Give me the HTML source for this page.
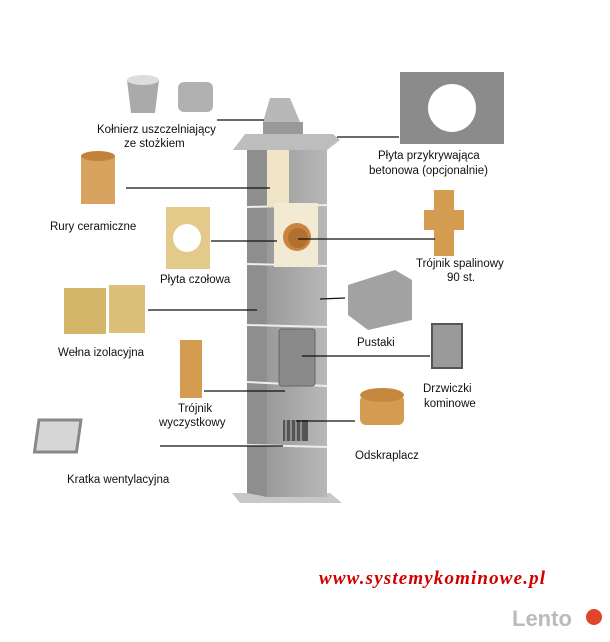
<!DOCTYPE html><html><head><style>body{margin:0;background:#fff}svg text{font-family:"Liberation Sans",sans-serif;font-size:11.5px;fill:#111}</style></head><body>
<svg width="610" height="637" viewBox="0 0 610 637">
<defs><linearGradient id="f" x1="0" x2="1"><stop offset="0" stop-color="#9a9a9a"/><stop offset="1" stop-color="#b8b8b8"/></linearGradient></defs>
<polygon points="232,493 330,493 342,503 240,503" fill="#c8c8c8"/>
<polygon points="247,148 267,144 267,497 247,493" fill="#8e8e8e"/>
<rect x="267" y="144" width="60" height="353" fill="url(#f)"/>
<g stroke="#eee" stroke-width="2"><line x1="247" y1="207" x2="327" y2="205"/><line x1="247" y1="264" x2="327" y2="266"/><line x1="247" y1="325" x2="327" y2="327"/><line x1="247" y1="382" x2="327" y2="386"/><line x1="247" y1="445" x2="327" y2="447"/></g>
<rect x="267" y="145" width="22" height="62" fill="#efe4c6"/>
<rect x="274" y="203" width="44" height="64" fill="#f2ead2"/>
<circle cx="297" cy="237" r="14" fill="#c9843e"/><circle cx="298" cy="238" r="10" fill="#b0702f"/>
<rect x="279" y="329" width="36" height="57" rx="3" fill="#8a8a8a" stroke="#666"/>
<rect x="283" y="420" width="25" height="21" fill="#555"/>
<g stroke="#ccc"><line x1="286" y1="420" x2="286" y2="441"/><line x1="291" y1="420" x2="291" y2="441"/><line x1="296" y1="420" x2="296" y2="441"/><line x1="301" y1="420" x2="301" y2="441"/></g>
<polygon points="233,150 245,134 333,134 340,140 327,150" fill="#bdbdbd"/>
<polygon points="263,122 270,98 290,98 300,122" fill="#b8b8b8"/><rect x="263" y="122" width="40" height="12" fill="#999"/>
<path d="M127 80 L159 80 L155 113 L131 113Z" fill="#aaa"/><ellipse cx="143" cy="80" rx="16" ry="5" fill="#ddd"/>
<rect x="178" y="82" width="35" height="30" rx="6" fill="#b0b0b0"/>
<rect x="400" y="72" width="104" height="72" fill="#8b8b8b"/><circle cx="452" cy="108" r="24" fill="#fff"/>
<rect x="81" y="156" width="34" height="48" fill="#d7a35f"/><ellipse cx="98" cy="156" rx="17" ry="5" fill="#c2823c"/>
<rect x="166" y="207" width="44" height="62" fill="#e3c98a"/><circle cx="187" cy="238" r="14" fill="#fff"/>
<rect x="434" y="190" width="20" height="66" fill="#d49c50"/><rect x="424" y="210" width="40" height="20" fill="#d49c50"/>
<rect x="64" y="288" width="42" height="46" fill="#d4b66a"/><rect x="109" y="285" width="36" height="48" fill="#dcc07a"/>
<polygon points="348,285 395,270 412,280 412,320 368,330 348,315" fill="#a2a2a2"/>
<rect x="432" y="324" width="30" height="44" fill="#9a9a9a" stroke="#555" stroke-width="2"/>
<rect x="180" y="340" width="22" height="58" fill="#d49c50"/>
<rect x="360" y="395" width="44" height="30" rx="6" fill="#d49c50"/><ellipse cx="382" cy="395" rx="22" ry="7" fill="#c6883f"/>
<rect x="98" y="420" width="42" height="32" fill="#d6d6d6" stroke="#888" stroke-width="3" transform="skewX(-8)"/>
<g stroke="#111" stroke-width="1.3">
<line x1="217" y1="120" x2="264" y2="120"/><line x1="337" y1="137" x2="399" y2="137"/>
<line x1="126" y1="188" x2="270" y2="188"/><line x1="211" y1="241" x2="277" y2="241"/>
<line x1="298" y1="239" x2="435" y2="239"/><line x1="148" y1="310" x2="257" y2="310"/>
<line x1="320" y1="299" x2="345" y2="298"/><line x1="302" y1="356" x2="430" y2="356"/>
<line x1="204" y1="391" x2="285" y2="391"/><line x1="296" y1="421" x2="355" y2="421"/>
<line x1="160" y1="446" x2="283" y2="446"/></g>
<text x="97" y="133">Kołnierz uszczelniający</text><text x="124" y="147">ze stożkiem</text>
<text x="378" y="159">Płyta przykrywająca</text><text x="369" y="174">betonowa (opcjonalnie)</text>
<text x="50" y="230">Rury ceramiczne</text>
<text x="160" y="283">Płyta czołowa</text>
<text x="416" y="267">Trójnik spalinowy</text><text x="447" y="281">90 st.</text>
<text x="357" y="346">Pustaki</text>
<text x="58" y="356">Wełna izolacyjna</text>
<text x="423" y="392">Drzwiczki</text><text x="424" y="407">kominowe</text>
<text x="178" y="412">Trójnik</text><text x="159" y="426">wyczystkowy</text>
<text x="355" y="459">Odskraplacz</text>
<text x="67" y="483">Kratka wentylacyjna</text>
<text x="319" y="584" textLength="226" style="font-family:'Liberation Serif',serif;font-size:19px;font-weight:bold;font-style:italic;fill:#d10000">www.systemykominowe.pl</text>
<text x="512" y="626" style="font-size:22px;font-weight:bold;fill:#bbb">Lento</text><circle cx="594" cy="617" r="8" fill="#e0452b"/>
</svg></body></html>
